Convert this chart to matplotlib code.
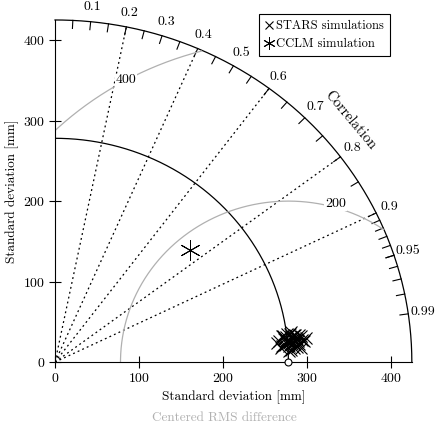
import numpy as np
import matplotlib
matplotlib.use("Agg")
import matplotlib.pyplot as plt

plt.rcParams['font.family'] = ['cmr10', 'DejaVu Serif']
plt.rcParams['axes.formatter.use_mathtext'] = True
plt.rcParams['mathtext.fontset'] = 'cm'

ref_std = 278
rmax = 425
rms_levels = [200, 400]
corr_lines = [0.2, 0.4, 0.6, 0.8, 0.9]
corr_labels = [0.1, 0.2, 0.3, 0.4, 0.5, 0.6, 0.7, 0.8, 0.9, 0.95, 0.99]
cclm_std, cclm_corr = 213, 0.757
stars_std = [268, 272, 275, 278, 280, 283, 285, 288, 290, 292, 295, 298, 270, 276, 282, 286, 289, 293, 279, 284,
             274, 287, 291, 281, 266, 300, 277, 283, 289, 273, 296, 285, 279, 271, 294, 287]
stars_corr = [0.995, 0.993, 0.997, 0.992, 0.996, 0.994, 0.998, 0.993, 0.995, 0.997, 0.994, 0.996, 0.998, 0.9955,
              0.9925, 0.9965, 0.9945, 0.9935, 0.9975, 0.9915, 0.9945, 0.9955, 0.996, 0.9985, 0.996, 0.995, 0.9938,
              0.9968, 0.9978, 0.9928, 0.9958, 0.9948, 0.9988, 0.9972, 0.9982, 0.9932]

fig = plt.figure(figsize=(4.4, 4.25), dpi=100)
ax = fig.add_axes([0.125, 0.148, 0.811, 0.805])
ax.set_xlim(0, rmax); ax.set_ylim(0, rmax)
for s in ['top', 'right']:
    ax.spines[s].set_visible(False)
ax.spines['left'].set_linewidth(0.8); ax.spines['bottom'].set_linewidth(0.8)
ax.set_xticks([0, 100, 200, 300, 400]); ax.set_yticks([0, 100, 200, 300, 400])
ax.tick_params(labelsize=10, length=8, width=0.8, direction='inout', pad=3)

t = np.linspace(0, np.pi/2, 300)
ax.plot(rmax*np.cos(t), rmax*np.sin(t), color='k', lw=0.9, clip_on=False)
ax.plot(ref_std*np.cos(t), ref_std*np.sin(t), color='k', lw=0.9)
for c in corr_lines:
    a = np.arccos(c)
    ax.plot([0, rmax*np.cos(a)], [0, rmax*np.sin(a)], ls=(0, (1.5, 2.5)), color='k', lw=0.9)
ticks = list(np.arange(0.05, 0.951, 0.05)) + list(np.arange(0.91, 0.995, 0.01))
for c in ticks:
    a = np.arccos(c)
    ax.plot([rmax*np.cos(a), (rmax-10)*np.cos(a)], [rmax*np.sin(a), (rmax-10)*np.sin(a)], color='k', lw=0.8, clip_on=False)
for c in corr_labels:
    a = np.arccos(c)
    r = rmax + 18
    ax.text(r*np.cos(a), r*np.sin(a), f"{c:g}", ha='center', va='center', fontsize=10)
ax.text(352, 300, 'Correlation', rotation=-50, ha='center', va='center', fontsize=10.5)
for lv in rms_levels:
    th = np.linspace(0, np.pi, 800)
    x = ref_std + lv*np.cos(th); y = lv*np.sin(th)
    m = (x >= 0) & (np.hypot(x, y) <= rmax)
    ax.plot(x[m], y[m], color='#b0b0b0', lw=0.9)
ax.text(334, 196, '200', fontsize=10, ha='center', va='center', bbox=dict(fc='white', ec='none', pad=0.5))
ax.text(85, 350, '400', fontsize=10, ha='center', va='center', bbox=dict(fc='white', ec='none', pad=0.5))
sa = np.arccos(np.array(stars_corr))
ax.plot(np.array(stars_std)*np.cos(sa), np.array(stars_std)*np.sin(sa), 'x', color='k', ms=9, mew=0.8,
        label='STARS simulations', zorder=5)
ca = np.arccos(cclm_corr)
ax.plot([cclm_std*np.cos(ca)], [cclm_std*np.sin(ca)], marker=(6, 2, 0), color='k', ms=15, mew=0.7, ls='none',
        label='CCLM simulation', zorder=5)
ax.plot([ref_std], [0], 'o', mfc='white', mec='k', ms=5, mew=0.8, clip_on=False, zorder=6)

leg = ax.legend(loc='upper right', bbox_to_anchor=(0.955, 1.035), fontsize=9, handlelength=0.6, handletextpad=0.3,
                fancybox=False, edgecolor='k', framealpha=1, borderpad=0.45, markerscale=0.6)
leg.get_frame().set_linewidth(0.8)
ax.set_xlabel('Standard deviation [mm]', fontsize=9.5, labelpad=4)
ax.set_ylabel('Standard deviation [mm]', fontsize=9.5, labelpad=3)
fig.text(0.51, 0.01, 'Centered RMS difference', color='#b0b0b0', fontsize=9.5, ha='center')
fig.savefig('out.png', dpi=100)
